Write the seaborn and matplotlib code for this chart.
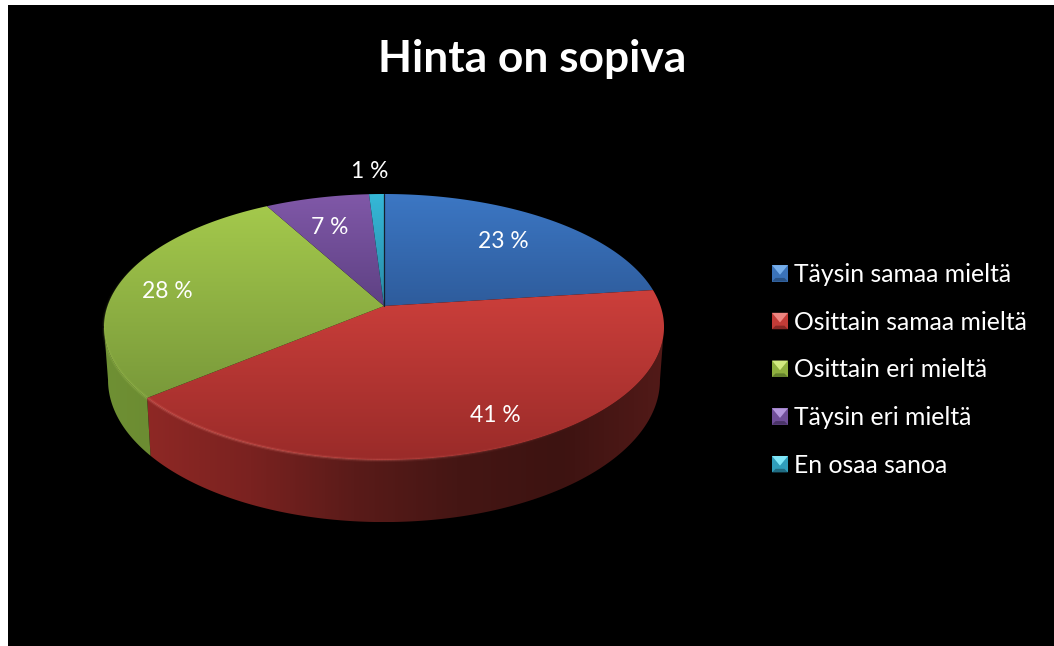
import numpy as np
import matplotlib
matplotlib.use("Agg")
import matplotlib.pyplot as plt
import seaborn as sns
from matplotlib.collections import LineCollection
from matplotlib.legend_handler import HandlerBase
from matplotlib.patches import Patch, Polygon

# Survey answers
title = "Hinta on sopiva"
answers = ["Täysin samaa mieltä", "Osittain samaa mieltä", "Osittain eri mieltä",
           "Täysin eri mieltä", "En osaa sanoa"]
shares = [23, 41, 28, 7, 1]

# Colours per slice: top face (far to near), side face (left to right)
top_ramps = [["#3C77C4", "#2E5C9C"], ["#CC3F3B", "#9A2B29"], ["#A4C94C", "#79993A"],
             ["#8058A8", "#5E4183"], ["#35B8D8", "#2A8AA6"]]
side_ramps = [["#2E5C9C", "#1E3F6C"],
              ["#8E2825", "#7A2220", "#5A1B19", "#451614", "#3D1311", "#521A18"],
              ["#6F9034", "#6C8C32"], ["#4E3570", "#3E2A58"], ["#227085", "#1A5768"]]
icon_shades = [("#3A72B8", "#76AEEA", "#295285"), ("#C23B37", "#EE8580", "#862825"),
               ("#8FB03F", "#D2EA80", "#63802C"), ("#6F4E98", "#B396DC", "#4A3468"),
               ("#2F9DBB", "#7FE6F8", "#206C82")]

# Page layout, in pixels from the top left of the image
WIDTH, HEIGHT, DPI = 1054, 646, 100
CX = 384
PERSPECTIVE = 0.158
TOP_RIM = dict(ax=276.5, y0=306.0, by=129.7)
BOTTOM_RIM = dict(ax=272.5, y0=357.6, by=138.5)
VALUE_LABEL_XY = [(503, 241), (495, 416), (167, 292), (330, 227), (370, 172)]
LABEL_SIZE = 16.4
LEGEND_SIZE = 17.8


def rim(theta, ax, y0, by):
    """Project angles (clockwise from the far side) onto a tilted circle."""
    u, v = np.sin(theta), np.cos(theta)
    w = 1 + PERSPECTIVE * v
    return CX + ax * u / w, y0 - by * v / w


def gradient_fill(axes, outline, colors, vertical, zorder):
    """Fill a closed outline with a linear colour ramp across its extent."""
    cmap = sns.blend_palette(colors, as_cmap=True)
    ramp = np.linspace(0, 1, 256)
    ramp = ramp[:, None] if vertical else ramp[None, :]
    x0, y0 = outline.min(axis=0)
    x1, y1 = outline.max(axis=0)
    img = axes.imshow(ramp, cmap=cmap, extent=(x0, x1, y1, y0), origin="upper",
                      aspect="auto", interpolation="bilinear", zorder=zorder)
    clip = Polygon(outline, closed=True, transform=axes.transData)
    img.set_clip_path(clip)


class BevelIcon(HandlerBase):
    """Legend key drawn as a small bevelled square."""

    def create_artists(self, legend, orig_handle, xdescent, ydescent, width, height,
                       fontsize, trans):
        base, light, dark = orig_handle.shades
        x0, y0 = -xdescent, -ydescent
        x1, y1 = x0 + width, y0 + height
        mx, my = (x0 + x1) / 2, (y0 + y1) / 2
        inset = height * 0.22
        faces = [
            ([(x0, y0), (x1, y0), (x1, y1), (x0, y1)], base),
            ([(x0, y0), (x1, y0), (x1 - inset, y0 + inset), (x0 + inset, y0 + inset)], dark),
            ([(x0, y1), (x1, y1), (mx, my - inset * 0.4)], light),
        ]
        return [Polygon(pts, closed=True, facecolor=col, edgecolor="none", transform=trans)
                for pts, col in faces]


sns.set_theme(style="white")
plt.rcParams["font.family"] = ["Lato", "DejaVu Sans"]

fig = plt.figure(figsize=(WIDTH / DPI, HEIGHT / DPI), dpi=DPI, facecolor="white")
ax = fig.add_axes([8 / WIDTH, 0, (WIDTH - 8) / WIDTH, (HEIGHT - 5) / HEIGHT])
ax.set_facecolor("black")
ax.set_xticks([])
ax.set_yticks([])
for spine in ax.spines.values():
    spine.set_visible(False)

# Slice boundaries come straight from the shares
edges = np.radians(np.concatenate([[0], np.cumsum(shares)]) / np.sum(shares) * 360)

# Side walls first, limited to the arc between the two silhouette points
wall_start = np.arccos(-PERSPECTIVE)
wall_end = 2 * np.pi - wall_start
for i in range(len(shares)):
    a, b = max(edges[i], wall_start), min(edges[i + 1], wall_end)
    if a >= b:
        continue
    th = np.linspace(a, b, 200)
    tx, ty = rim(th, **TOP_RIM)
    bx, by = rim(th, **BOTTOM_RIM)
    wall = np.column_stack([np.r_[tx, bx[::-1]], np.r_[ty, by[::-1]]])
    gradient_fill(ax, wall, side_ramps[i], vertical=False, zorder=1)

# Top faces
for i in range(len(shares)):
    th = np.linspace(edges[i], edges[i + 1], 300)
    tx, ty = rim(th, **TOP_RIM)
    face = np.column_stack([np.r_[CX, tx], np.r_[TOP_RIM["y0"], ty]])
    gradient_fill(ax, face, top_ramps[i], vertical=True, zorder=2)

# Soft bevel along the near rim of the top face
for i, colour in [(1, "#F07A72"), (2, "#B4D662")]:
    th = np.linspace(edges[i], edges[i + 1], 300)
    tx, ty = rim(th, **TOP_RIM)
    pts = np.column_stack([tx, ty])
    segs = np.stack([pts[:-1], pts[1:]], axis=1)
    mid = (th[:-1] + th[1:]) / 2
    fade = np.clip(np.cos(mid - np.radians(215)), 0, 1) ** 2
    rgba = np.array([matplotlib.colors.to_rgba(colour)] * len(segs))
    for lw, strength in [(3.0, 0.12), (1.2, 0.35)]:
        rgba[:, 3] = fade * strength
        ax.add_collection(LineCollection(segs, colors=rgba.copy(), linewidths=lw, zorder=3))

# Dark seam where the first slice starts
sx, sy = rim(np.array([edges[0]]), **TOP_RIM)
ax.plot([CX, sx[0]], [TOP_RIM["y0"], sy[0]], color="#14202E", lw=0.9, zorder=4)

# Value labels
for share, (lx, ly) in zip(shares, VALUE_LABEL_XY):
    ax.text(lx, ly, f"{share} %", color="white", fontsize=LABEL_SIZE,
            ha="center", va="center", zorder=5)

ax.set_xlim(8, WIDTH)
ax.set_ylim(HEIGHT, 5)

ax.text(532, 59, title, color="white", fontsize=31.9, fontweight="bold",
        ha="center", va="center")

# Legend
handles = []
for label, shades in zip(answers, icon_shades):
    h = Patch(label=label)
    h.shades = shades
    handles.append(h)
fs = LEGEND_SIZE
ax.legend(handles=handles, handler_map={Patch: BevelIcon()}, loc="upper left",
          bbox_to_anchor=(772, 263), bbox_transform=ax.transData, frameon=False,
          fontsize=fs, labelcolor="white", handlelength=11.5 / fs, handleheight=11.5 / fs,
          handletextpad=4.3 / fs, labelspacing=1.0, borderpad=0, borderaxespad=0)

fig.savefig("out.png", dpi=DPI, facecolor=fig.get_facecolor())
